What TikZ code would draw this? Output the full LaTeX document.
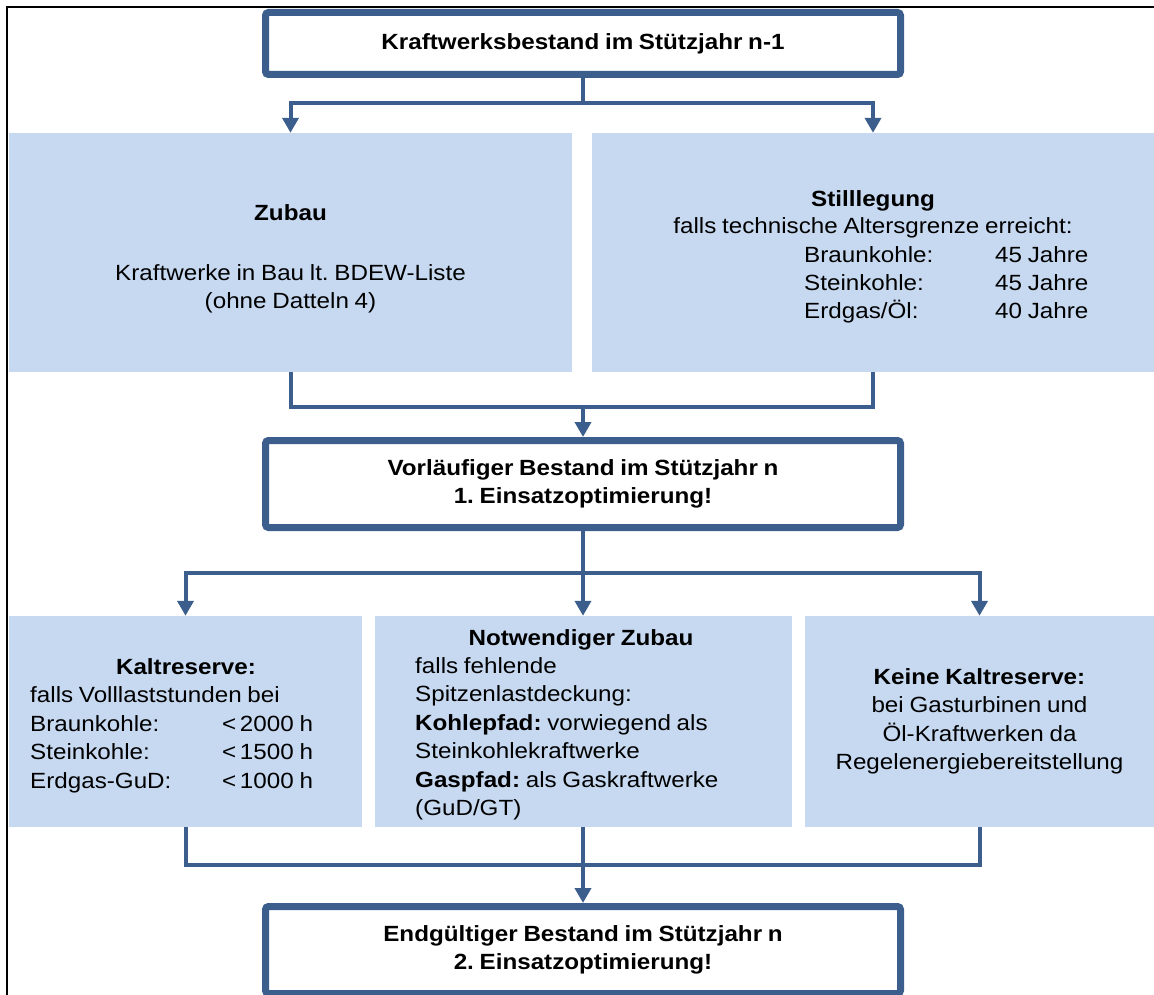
\documentclass[tikz,border=0pt]{standalone}
\usepackage{fontspec}
\setmainfont{Liberation Sans}[FakeStretch=1.1,WordSpace=0.85]
\usetikzlibrary{arrows.meta}
\definecolor{connblue}{RGB}{59,94,140}
\definecolor{boxblue}{RGB}{198,217,241}
\frenchspacing
\begin{document}
\begin{tikzpicture}[x=1pt,y=-1pt,
  font=\fontsize{22}{28.5}\selectfont,
  whitebox/.style={draw=connblue, line width=7pt, rounded corners=3pt, fill=white,
    minimum width=635pt, inner sep=0pt, align=center,
    font=\fontsize{22}{28.5}\selectfont\bfseries},
  bluebox/.style={fill=boxblue, inner sep=0pt, align=center},
  conn/.style={draw=connblue, line width=4pt},
  arr/.style={conn, -{Triangle[width=16pt,length=15pt]}},
  txt/.style={inner sep=0pt},
  frameline/.style={draw=black, line width=2.5pt}]
\useasboundingbox (0,0) rectangle (1154,995);
\draw[frameline] (7,996) -- (7,7) -- (1155,7);

% boxes
\node[whitebox, minimum height=62pt] (top) at (583,43.5) {Kraftwerksbestand im Stützjahr n-1};
\node[bluebox, minimum width=563pt, minimum height=239pt] (zubau) at (290.5,252.5) {};
\node[bluebox, minimum width=562pt, minimum height=239pt] (stil) at (873,252.5) {};
\node[whitebox, minimum height=87pt] (mid) at (583,484) {Vorläufiger Bestand im Stützjahr n\\1. Einsatzoptimierung!};
\node[bluebox, minimum width=353pt, minimum height=211pt] (kalt) at (185.5,721.5) {};
\node[bluebox, minimum width=417pt, minimum height=211pt] (notw) at (583,721.5) {};
\node[bluebox, minimum width=349pt, minimum height=211pt] (keine) at (979.5,721.5)
  {\textbf{Keine Kaltreserve:}\\bei Gasturbinen und\\Öl-Kraftwerken da\\Regelenergiebereitstellung};
\node[whitebox, minimum height=87pt] (bot) at (583,950) {Endgültiger Bestand im Stützjahr n\\2. Einsatzoptimierung!};

% Zubau text
\node[txt, anchor=base] (zh) at (290.5,221) {\textbf{Zubau}};
\node[txt, anchor=base] (z1) at (290.5,280) {Kraftwerke in Bau lt. BDEW-Liste};
\node[txt, anchor=base] (z2) at (290.5,308) {(ohne Datteln 4)};

% Stilllegung text
\node[txt, anchor=base] (sh) at (873,207) {\textbf{Stilllegung}};
\node[txt, anchor=base] (s0) at (873,234) {falls technische Altersgrenze erreicht:};
\node[txt, anchor=base west] (s1a) at (804,262) {Braunkohle:};
\node[txt, anchor=base west] (s1b) at (995,262) {45 Jahre};
\node[txt, anchor=base west] (s2a) at (804,290) {Steinkohle:};
\node[txt, anchor=base west] (s2b) at (995,290) {45 Jahre};
\node[txt, anchor=base west] (s3a) at (804,318) {Erdgas/Öl:};
\node[txt, anchor=base west] (s3b) at (995,318) {40 Jahre};

% Kaltreserve text
\node[txt, anchor=base] (kh) at (186,674) {\textbf{Kaltreserve:}};
\node[txt, anchor=base west] (k0) at (30,702.5) {falls Volllaststunden bei};
\node[txt, anchor=base west] (k1a) at (30,731) {Braunkohle:};
\node[txt, anchor=base west] (k1b) at (222,731) {<\,2000 h};
\node[txt, anchor=base west] (k2a) at (30,759.5) {Steinkohle:};
\node[txt, anchor=base west] (k2b) at (222,759.5) {<\,1500 h};
\node[txt, anchor=base west] (k3a) at (30,788) {Erdgas-GuD:};
\node[txt, anchor=base west] (k3b) at (222,788) {<\,1000 h};

% Notwendiger Zubau text
\node[txt, anchor=base] (nh) at (581,645) {\textbf{Notwendiger Zubau}};
\node[txt, anchor=base west] (n1) at (415,673) {falls fehlende};
\node[txt, anchor=base west] (n2) at (415,701.5) {Spitzenlastdeckung:};
\node[txt, anchor=base west] (n3) at (415,730) {\textbf{Kohlepfad:} vorwiegend als};
\node[txt, anchor=base west] (n4) at (415,758.5) {Steinkohlekraftwerke};
\node[txt, anchor=base west] (n5) at (415,787) {\textbf{Gaspfad:} als Gaskraftwerke};
\node[txt, anchor=base west] (n6) at (415,815.5) {(GuD/GT)};

% connectors
\coordinate (j1) at (583,103);
\draw[conn] (top.south) -- (j1);
\draw[arr] (j1) -| (zubau.north);
\draw[arr] (j1) -| (stil.north);
\coordinate (j2) at (583,407);
\draw[conn] (zubau.south) |- (j2) -| (stil.south);
\draw[arr] (j2) -- (mid.north);
\coordinate (j3) at (583,573);
\draw[conn] (mid.south) -- (j3);
\draw[arr] (j3) -| (kalt.north);
\draw[arr] (j3) -- (notw.north);
\draw[arr] (j3) -| (keine.north);
\coordinate (j4) at (583,865);
\draw[conn] (kalt.south) |- (j4) -| (keine.south);
\draw[conn] (notw.south) -- (j4);
\draw[arr] (j4) -- (bot.north);
\end{tikzpicture}
\end{document}
